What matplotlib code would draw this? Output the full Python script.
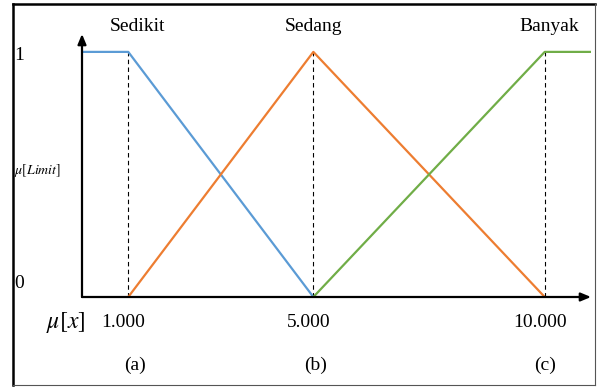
import matplotlib.pyplot as plt
from matplotlib.lines import Line2D

plt.rcParams['font.family'] = 'Liberation Serif'
plt.rcParams['mathtext.fontset'] = 'stix'

# membership functions (x in thousands)
sedikit_x = [0, 1, 5]
sedikit_y = [1, 1, 0]
sedang_x = [1, 5, 10]
sedang_y = [0, 1, 0]
banyak_x = [5, 10, 11]
banyak_y = [0, 1, 1]

peaks = [1, 5, 10]
peak_labels = ['1.000', '5.000', '10.000']
set_names = ['Sedikit', 'Sedang', 'Banyak']
set_name_x = [1.2, 5.0, 10.1]
sub_labels = ['(a)', '(b)', '(c)']
sub_label_x = [1.15, 5.05, 10.0]

W, H = 602, 388
fig = plt.figure(figsize=(W / 100, H / 100), dpi=100)
ax = fig.add_axes([82 / W, (H - 297) / H, 509 / W, 263 / H])
ax.set_xlim(0, 11)
ax.set_ylim(0, 1.073)
ax.axis('off')

ax.plot(sedikit_x, sedikit_y, color='#5B9BD5', lw=1.6, solid_capstyle='butt')
ax.plot(sedang_x, sedang_y, color='#ED7D31', lw=1.6, solid_capstyle='butt')
ax.plot(banyak_x, banyak_y, color='#70AD47', lw=1.6, solid_capstyle='butt')

for p in peaks:
    ax.plot([p, p], [0, 1], color='black', lw=0.8, ls=(0, (4, 3)), zorder=1)

# axes with arrow heads
ax.annotate('', xy=(1.0, 0), xytext=(0, 0), xycoords='axes fraction',
            arrowprops=dict(arrowstyle='-|>,head_length=0.6,head_width=0.25',
                            color='black', lw=1.6, shrinkA=0, shrinkB=0))
ax.annotate('', xy=(0, 1.0), xytext=(0, 0), xycoords='axes fraction',
            arrowprops=dict(arrowstyle='-|>,head_length=0.6,head_width=0.25',
                            color='black', lw=1.6, shrinkA=0, shrinkB=0))

fs = 14
for x, name in zip(set_name_x, set_names):
    ax.text(x, 1.105, name, ha='center', va='center', fontsize=fs, clip_on=False)
for x, lab in zip(peaks, peak_labels):
    ax.text(x - 0.1, -0.105, lab, ha='center', va='center', fontsize=fs, clip_on=False)
for x, lab in zip(sub_label_x, sub_labels):
    ax.text(x, -0.28, lab, ha='center', va='center', fontsize=fs, clip_on=False)

ax.text(-1.47, 0.985, '1', ha='left', va='center', fontsize=fs, clip_on=False)
ax.text(-1.47, 0.055, '0', ha='left', va='center', fontsize=fs, clip_on=False)
ax.text(-1.47, 0.515, r'$\mu[Limit]$', ha='left', va='center', fontsize=10, clip_on=False)
ax.text(-0.35, -0.105, r'$\mu[x]$', ha='center', va='center', fontsize=17, clip_on=False)

# frame around the figure
fig.add_artist(Line2D([12.5 / W, 12.5 / W], [3 / H, (H - 4) / H], color='black', lw=1.8))
fig.add_artist(Line2D([12.5 / W, 595 / W], [(H - 4) / H, (H - 4) / H], color='black', lw=1.8))
fig.add_artist(Line2D([595 / W, 595 / W], [3 / H, (H - 4) / H], color='#555555', lw=0.8))
fig.add_artist(Line2D([12.5 / W, 595 / W], [3 / H, 3 / H], color='#555555', lw=0.8))

fig.savefig('out.png', dpi=100)
